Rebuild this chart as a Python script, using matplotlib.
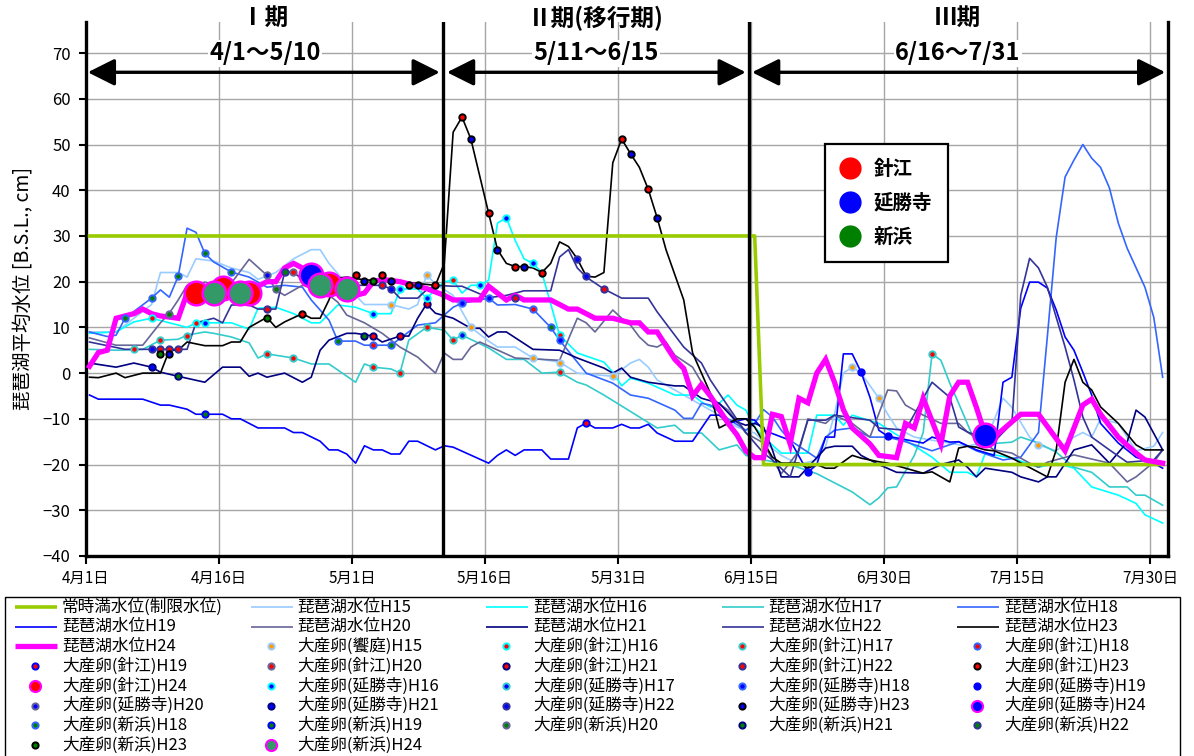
import numpy as np
import matplotlib
matplotlib.use('Agg')
import matplotlib.pyplot as plt
from matplotlib.lines import Line2D
from matplotlib.patches import Rectangle

plt.rcParams['font.family'] = ['Noto Sans CJK JP', 'DejaVu Sans']

# days counted from 4/1 (day 0); daily values are drawn slightly after the tick
X_SHIFT = 0.4

TICK_DAYS = [0, 15, 30, 45, 60, 75, 90, 105, 120]
TICK_LABELS = ['4月1日', '4月16日', '5月1日', '5月16日', '5月31日',
               '6月15日', '6月30日', '7月15日', '7月30日']

LIMIT_DAYS = [0, 75, 76, 121]
LIMIT_LEVEL = [30, 30, -20, -20]

H15_DAYS = [0, 3, 5, 7, 8, 10, 11, 12, 14, 16, 18, 19, 21, 23, 24, 25, 26, 27, 29, 30, 31, 34, 36, 37, 38, 39, 41,
            43, 45, 46, 48, 50, 53, 55, 59, 61, 62, 63, 64, 67, 69, 71, 73, 75, 76, 78, 80, 82, 83, 84, 85, 86, 87,
            89, 90, 91, 93, 96, 99, 101, 103, 104, 106, 107, 109, 111, 112, 113, 114, 116, 118, 120, 121]
H15_LEVEL = [9, 9, 12, 15, 22, 22, 21, 25, 24.5, 23, 22, 20.5, 22, 25, 26, 27, 27, 24, 19.5, 17, 15, 15, 14, 15, 21.5,
             19.5, 17, 10, 7, 5.7, 5.7, 3.3, 2.4, 0, -0.7, 2.2, 3, 1.3, -1.5, -4.8, -7, -9.2, -11.8, -13.1, -15, -18,
             -20, -19, -16, -9, 0, 1.3, 0, -5.5, -9, -12, -14, -15, -16, -15, -5.5, -7.5, -14, -15.7, -17, -14, -13,
             -14, -10, -11, -17, -16, -13]

H16_DAYS = [0, 3, 5, 7, 9, 11, 12, 14, 16, 18, 19, 21, 23, 25, 26, 28, 30, 32, 34, 35, 37, 38, 40, 41, 42, 43, 44,
            45, 46, 47, 48, 49, 50, 51, 53, 55, 58, 59, 60, 61, 63, 66, 68, 69, 70, 71, 72, 73, 74, 75, 76, 78, 81,
            82, 84, 85, 86, 89, 92, 95, 97, 99, 100, 101, 104, 107, 109, 111, 113, 116, 118, 119, 121]
H16_LEVEL = [8.7, 9, 11.2, 12, 11, 10, 11, 11, 11, 9.6, 14.2, 14.4, 13, 11, 11, 14.9, 14.4, 13, 13, 18.4, 18.4, 16.4,
             20, 20.3, 17.5, 19.2, 19.2, 20.3, 32.8, 34, 29, 25, 24, 22, 8.3, 4.4, 2.4, 0.2, -2.8, -1.1, -2.2, -4.8,
             -4.8, -6.3, -7.4, -6.6, -4.8, -7, -8.1, -11.8, -14, -17.5, -17.5, -9.2, -9.2, -11.4, -9.2, -11, -14.7,
             -18.4, -21.7, -21.7, -22.7, -17.5, -18.6, -20.6, -19.7, -20.8, -24.9, -26.7, -28.5, -31, -32.8]

H17_DAYS = [0, 3, 6, 8, 10, 11, 13, 14, 16, 18, 19, 20, 23, 25, 27, 30, 31, 32, 34, 35, 36, 38, 40, 41, 42, 45, 47,
            49, 51, 53, 55, 56, 58, 60, 62, 64, 66, 67, 69, 71, 73, 74, 76, 79, 82, 86, 88, 89, 90, 91, 93, 94, 95,
            96, 97, 98, 100, 104, 105, 107, 109, 111, 113, 115, 117, 118, 119, 121]
H17_LEVEL = [5.2, 5, 5.2, 7.2, 7.4, 8.3, 9, 8.7, 7.9, 6.6, 3.3, 4.2, 3.3, 2, 2, -2, 2, 1.3, 0.9, 0, 7.2, 10, 9.4, 7.2,
             8.3, 5.5, 3, 3, 0, 0.2, -2, -2.6, -4.8, -7.2, -9.6, -12, -11.4, -13.1, -13.1, -16.8, -15.7, -18, -19,
             -20, -22, -26, -28.8, -27.3, -25.1, -24.9, -18, -13, 4.2, 2.8, -2.2, -6.6, -15.7, -15.1, -14, -15.3,
             -17.3, -20.6, -21.7, -24.9, -24.9, -26.7, -26.7, -28.9]

H18_DAYS = [0, 2, 3, 4, 7, 8, 9, 10, 11, 12, 13, 14, 16, 18, 20, 22, 24, 25, 27, 28, 30, 31, 34, 37, 39, 41, 42, 44,
            45, 46, 48, 50, 52, 53, 56, 59, 61, 63, 66, 67, 68, 69, 70, 72, 74, 75, 76, 77, 78, 79, 82, 83, 84, 86,
            88, 90, 92, 95, 98, 100, 103, 105, 107, 108, 109, 110, 111, 112, 113, 114, 115, 116, 117, 119, 120, 121]
H18_LEVEL = [9, 8, 8.3, 12, 16.4, 18.2, 16.6, 21.2, 31.7, 30.8, 26.2, 24.3, 22.1, 21, 18.8, 19.2, 18.8, 16, 11.6, 7, 7,
             6.1, 6.1, 10.5, 11, 14.4, 15.3, 16, 16.4, 14.9, 15, 14, 10, 7.2, 0, -2.2, -4.8, -5.5, -8.1, -9.9, -9.9,
             -6.6, -7, -10, -12.5, -11, -8, -9.6, -12.5, -14.7, -18.6, -14, -12.5, -12, -14, -14, -15, -17, -15, -17,
             -19, -18.4, -13, 8, 29.7, 42.9, 46.6, 50, 47, 45, 40.5, 32.8, 27.3, 18.8, 12.2, -0.9]

H19_DAYS = [0, 1, 6, 8, 9, 11, 12, 15, 16, 17, 19, 22, 23, 24, 26, 27, 28, 29, 30, 31, 32, 33, 34, 35, 36, 37, 39,
            40, 41, 45, 46, 47, 48, 49, 51, 52, 54, 55, 56, 57, 59, 60, 61, 62, 63, 64, 66, 68, 70, 71, 72, 74, 75,
            76, 79, 81, 82, 83, 84, 85, 86, 87, 88, 89, 90, 94, 95, 97, 98, 100, 102, 103, 104, 105, 106, 107, 108,
            109, 110, 111, 112, 113, 114, 116, 118, 120, 121]
H19_LEVEL = [-4.8, -5.7, -5.7, -7, -7, -7.9, -9, -9, -10, -10, -12, -12, -13, -13, -14.9, -16.8, -16.8, -17.7, -19.7,
             -15.9, -16.8, -16.8, -17.7, -17.7, -14.9, -14.9, -16.8, -15.9, -16.2, -19.7, -18, -16.8, -18, -16.8,
             -16.8, -18.8, -18.8, -12, -10.9, -12, -12, -11.2, -12, -12, -11.2, -13.1, -14.9, -14.9, -9.2, -9.2,
             -11, -10, -10.3, -12.5, -14.7, -21.7, -20, -14, -14, 4.2, 4.2, 0.2, -5.3, -12.5, -13.8, -15.3, -14,
             -15.1, -15, -16.8, -18, -2, -0.9, 14.2, 19.9, 19.9, 18.6, 13.8, 7.9, 5, 0.2, -4.8, -11, -15.3, -18.4,
             -19.7, -20.8]

H20_DAYS = [0, 3, 6, 8, 9, 10, 11, 12, 13, 15, 16, 18, 20, 21, 22, 24, 26, 28, 29, 31, 33, 35, 37, 39, 40, 41, 42,
            43, 44, 48, 53, 55, 56, 57, 59, 60, 61, 62, 63, 64, 65, 66, 68, 70, 72, 74, 76, 77, 78, 80, 81, 83, 84,
            86, 88, 90, 91, 92, 94, 96, 98, 99, 102, 104, 106, 107, 108, 111, 115, 117, 118, 120, 121]
H20_LEVEL = [7.7, 6.1, 6.1, 11, 13.1, 16, 19.2, 19.2, 19.9, 19, 19.7, 24.9, 21.4, 18.2, 17, 19.2, 18.6, 15.5, 12.7,
             11, 8.7, 5.7, 3.5, 0, 4.4, 3, 3, 5.7, 6.8, 3.3, 2.8, 12, 11, 9, 13.8, 12, 10.5, 7.9, 6.1, 5.7, 6.8, 3.9,
             1.3, -5.3, -8.1, -13.1, -15.3, -19, -22, -17, -10, -11, -9.2, -11, -14, -3.7, -3.9, -7, -9.2, -11, -11,
             -12.9, -16.8, -17.5, -19.7, -20.6, -19.5, -17.9, -19.7, -23.8, -22.7, -19.5, -16.8]

H21_DAYS = [0, 3, 5, 7, 8, 10, 13, 15, 17, 18, 19, 20, 22, 24, 25, 26, 27, 29, 30, 32, 33, 35, 36, 37, 38, 39, 41,
            42, 43, 44, 45, 46, 47, 50, 53, 55, 58, 59, 60, 61, 63, 66, 67, 69, 71, 73, 74, 75, 76, 77, 78, 80, 83,
            84, 86, 87, 89, 91, 94, 96, 98, 99, 100, 101, 104, 105, 107, 108, 109, 111, 113, 115, 117, 118, 119, 121]
H21_LEVEL = [2.2, 1.3, 2.2, 1.3, 0.2, -0.7, -2, 1.3, 1.3, -0.7, 0, -0.9, 0, -2, -0.9, 5, 7.2, 8.7, 8.7, 8.1, 6.8, 8.1,
             8.1, 12, 15.1, 13.1, 12, 10.9, 9.8, 9.8, 7.9, 9, 9, 5.2, 5, 3.3, 1.1, 0, 1.1, -0.9, -2, -2.8, -2.8,
             -5.5, -6.6, -10.7, -11.4, -11, -11.8, -16.8, -22.7, -22.7, -16.4, -16, -16, -18, -20, -21.7, -21.9, -20,
             -19, -20.6, -22.7, -20.8, -21.7, -22.7, -23.8, -22.7, -22.7, -16.8, -15.7, -19.7, -15.1, -8.1, -9.6,
             -16.8]

H22_DAYS = [0, 2, 4, 7, 11, 12, 14, 15, 16, 18, 19, 21, 22, 23, 25, 26, 28, 29, 33, 34, 35, 37, 38, 39, 41, 42, 45,
            47, 49, 52, 53, 54, 55, 56, 58, 60, 63, 64, 67, 69, 70, 71, 74, 76, 77, 79, 81, 83, 84, 88, 89, 92, 95,
            97, 98, 99, 102, 104, 105, 106, 107, 108, 109, 110, 111, 112, 113, 115, 117, 120, 121]
H22_LEVEL = [6.8, 6, 5.2, 5.2, 5.2, 11, 12, 11, 14.9, 14.9, 14, 14, 22.1, 22.1, 18.8, 16.6, 18, 19.2, 19.2, 18.4, 16.4,
             16.4, 18.2, 19.2, 19, 19, 16.5, 17, 18, 18, 25.4, 27, 23, 21, 18.4, 16.4, 16.4, 13.4, 5.7, 2.2, -1.5,
             -4.4, -13, -17.5, -19, -22.7, -10.3, -10.3, -9.2, -10.3, -12, -12.5, -2, -5.3, -11.8, -12.9, -15, -11,
             17, 25.1, 23, 18.8, 12.2, 5.7, -1.5, -9.6, -14, -16.8, -19.5, -19, -16.8]

H23_DAYS = [0, 1, 3, 4, 6, 8, 9, 10, 11, 13, 15, 16, 17, 18, 20, 21, 22, 24, 25, 26, 27, 28, 29, 31, 35, 39, 40,
            41, 42, 43, 45, 46, 47, 48, 49, 50, 51, 52, 53, 54, 55, 56, 57, 58, 59, 60, 61, 62, 63, 64, 65, 67, 68,
            70, 71, 72, 73, 74, 75, 77, 78, 80, 81, 82, 83, 84, 86, 87, 89, 90, 92, 94, 95, 96, 97, 98, 99, 100,
            101, 102, 104, 108, 109, 110, 111, 112, 113, 114, 116, 118, 119, 121]
H23_LEVEL = [-0.9, -1, 0, -1, 0, 0, 5, 5, 6.8, 6, 6, 6.8, 6.8, 10, 12.2, 10, 11.2, 13, 12, 12, 16, 20.8, 21, 20.4,
             20, 19.2, 24, 52.7, 56, 51.2, 35, 27, 24, 23.3, 23.3, 23, 22, 24, 28.7, 27.7, 25, 21.2, 21, 22, 46,
             51.2, 48, 45, 40.2, 34, 27, 16, 4.4, -4.4, -12, -11, -10, -10, -11.8, -18.4, -19.7, -19.7, -20.8, -20,
             -20.8, -20.8, -18, -18.6, -19.4, -19.7, -20.8, -21.9, -21.6, -22.7, -23.8, -16.4, -16, -16.2, -16.8,
             -17, -18.6, -22.7, -16.8, -2, 3, -2, -3.7, -7.4, -11, -15.7, -16.8, -16.8]

H24_DAYS = [0, 1, 2, 3, 4, 5, 6, 7, 8, 10, 11, 18, 19, 20, 21, 22, 23, 24, 26, 28, 30, 31, 32, 33, 35, 37, 38, 40,
            41, 44, 45, 46, 47, 48, 49, 52, 54, 55, 57, 59, 61, 62, 63, 64, 66, 67, 68, 69, 70, 72, 73, 74, 75, 76,
            77, 78, 79, 80, 81, 82, 83, 84, 85, 86, 88, 89, 91, 92, 93, 94, 96, 97, 98, 99, 100, 101, 102, 105, 107,
            110, 112, 113, 114, 116, 118, 119, 121]
H24_LEVEL = [1.5, 4.5, 5, 12, 12.5, 13, 14, 13, 12.5, 12, 17.5, 17.5, 19, 20, 20, 23, 24, 23, 20, 18, 17, 17.5, 20,
             20.5, 20, 19, 18.5, 17, 16, 16, 19, 17.5, 16, 17, 16, 16, 14, 14, 12, 12, 11, 11, 9, 9, 3, 1, -5, -2.5,
             -5, -11, -13.5, -17, -18.5, -18.5, -9, -9.5, -15.5, -5.5, -6.5, 0, 3, -2, -8, -12, -15.5, -18, -18.5,
             -11, -12, -5.5, -15.5, -5, -2, -2, -7.5, -13.5, -14, -9, -9, -17, -7, -5.7, -9, -14, -17.5, -19, -19.7]

# spawning observations (day, level) per site and year
aiba_h15 = ([34, 38, 43, 50, 53, 59, 86, 89, 107], [15, 21.4, 10, 3.3, 2.2, -0.7, 1.3, -5.5, -15.7])
harie_h16 = ([7, 12, 41, 53], [12, 11, 20.3, 8.3])
harie_h17 = ([5, 8, 11, 20, 23, 32, 35, 38, 41, 53, 95], [5.2, 7.2, 8.1, 4.2, 3.3, 1.3, 0, 10, 7.2, 0.2, 4.2])
harie_h18 = ([32, 50], [6.1, 14])
harie_h19 = ([56], [-10.9])
harie_h20 = ([23], [22.1])
harie_h21 = ([32, 35, 38], [8.1, 8.1, 15.1])
harie_h22 = ([8, 9, 10, 20, 33, 48, 58], [5.2, 5.2, 5.2, 14, 19.2, 16.4, 18.4])
harie_h23 = ([24, 30, 33, 36, 39, 42, 45, 48, 51, 60, 63], [13, 21.4, 21.4, 19.2, 19.2, 56, 35, 23.3, 22, 51.2, 40.2])
harie_h24 = ([12, 15, 18, 27], [17.5, 18.6, 17.5, 19.4])
enshoji_h16 = ([13, 32, 35, 38, 44, 47, 50], [11, 13, 18.4, 16.4, 19.2, 34, 24])
enshoji_h17 = ([42], [8.3])
enshoji_h18 = ([42, 45, 53], [15.3, 16.4, 7.2])
enshoji_h19 = ([81, 87, 90], [-21.7, 0.2, -13.8])
enshoji_h20 = ([20], [21.4])
enshoji_h21 = ([7], [1.3])
enshoji_h22 = ([7, 34, 55, 56], [5.2, 18.4, 25, 21.2])
enshoji_h23 = ([9, 31, 34, 37, 43, 46, 49, 61, 64], [4.2, 20.1, 20.1, 19.2, 51.2, 27, 23.3, 48, 34])
enshoji_h24 = ([25, 101], [21.4, -13.6])
shinhama_h18 = ([4, 7, 10, 13, 16, 28, 34, 52], [12, 16.4, 21.2, 26.2, 22.1, 7, 6.1, 10])
shinhama_h19 = ([13], [-9])
shinhama_h20 = ([9, 12, 21], [13, 19.2, 18.4])
shinhama_h21 = ([10, 31], [-0.7, 8.1])
shinhama_h22 = ([22], [22.1])
shinhama_h23 = ([8, 20, 32], [4.2, 12, 20.1])
shinhama_h24 = ([14, 17, 26, 29], [17.5, 17.5, 19.2, 18.4])

YEAR_COLORS = {'H15': '#99ccff', 'H16': '#00ffff', 'H17': '#33cccc', 'H18': '#3366ff', 'H19': '#0000ff',
               'H20': '#666699', 'H21': '#000080', 'H22': '#333399', 'H23': '#000000', 'H24': '#ff00ff'}
SITE_COLORS = {'饗庭': '#ff9900', '針江': '#ff0000', '延勝寺': '#0000ff', '新浜': '#008000'}
LIMIT_COLOR = '#99cc00'

levels = [('H15', H15_DAYS, H15_LEVEL), ('H16', H16_DAYS, H16_LEVEL), ('H17', H17_DAYS, H17_LEVEL),
          ('H18', H18_DAYS, H18_LEVEL), ('H19', H19_DAYS, H19_LEVEL), ('H20', H20_DAYS, H20_LEVEL),
          ('H21', H21_DAYS, H21_LEVEL), ('H22', H22_DAYS, H22_LEVEL), ('H23', H23_DAYS, H23_LEVEL),
          ('H24', H24_DAYS, H24_LEVEL)]

eggs = [('饗庭', 'H15', aiba_h15),
        ('針江', 'H16', harie_h16), ('針江', 'H17', harie_h17), ('針江', 'H18', harie_h18),
        ('針江', 'H19', harie_h19), ('針江', 'H20', harie_h20), ('針江', 'H21', harie_h21),
        ('針江', 'H22', harie_h22), ('針江', 'H23', harie_h23), ('針江', 'H24', harie_h24),
        ('延勝寺', 'H16', enshoji_h16), ('延勝寺', 'H17', enshoji_h17), ('延勝寺', 'H18', enshoji_h18),
        ('延勝寺', 'H19', enshoji_h19), ('延勝寺', 'H20', enshoji_h20), ('延勝寺', 'H21', enshoji_h21),
        ('延勝寺', 'H22', enshoji_h22), ('延勝寺', 'H23', enshoji_h23), ('延勝寺', 'H24', enshoji_h24),
        ('新浜', 'H18', shinhama_h18), ('新浜', 'H19', shinhama_h19), ('新浜', 'H20', shinhama_h20),
        ('新浜', 'H21', shinhama_h21), ('新浜', 'H22', shinhama_h22), ('新浜', 'H23', shinhama_h23),
        ('新浜', 'H24', shinhama_h24)]


def egg_style(site, year):
    face = SITE_COLORS[site]
    if year == 'H24':
        if site == '新浜':
            face = '#339966'
        return dict(marker='o', ms=17, mfc=face, mec='#ff00ff', mew=1.8)
    return dict(marker='o', ms=4.6, mfc=face, mec=YEAR_COLORS[year], mew=1.4)


fig = plt.figure(figsize=(11.94, 7.56), dpi=100)
ax = fig.add_axes([0.072, 0.2646, 0.9062, 0.7063])

ax.plot(np.array(LIMIT_DAYS) + X_SHIFT, LIMIT_LEVEL, color=LIMIT_COLOR, lw=2.6, zorder=3)
for year, days, lev in levels:
    if year == 'H24':
        ax.plot(np.array(days) + X_SHIFT, lev, color=YEAR_COLORS[year], lw=3.8, zorder=4,
                solid_joinstyle='miter')
    else:
        ax.plot(np.array(days) + X_SHIFT, lev, color=YEAR_COLORS[year], lw=1.2, zorder=2)

for site, year, (days, vals) in eggs:
    ax.plot(np.array(days) + X_SHIFT, vals, ls='none', zorder=6 if year == 'H24' else 5,
            **egg_style(site, year))

# period boundaries and arrows
for xb in [40.3, 74.8]:
    ax.axvline(xb, color='black', lw=2.4, zorder=7)
arrow_kw = dict(arrowstyle='<|-|>,head_length=1.1,head_width=0.55', lw=2.4, color='black',
                mutation_scale=15, shrinkA=0, shrinkB=0)
for x0, x1, xc, title, span in [(0.2, 39.9, 20.2, 'Ⅰ期', '4/1～5/10'),
                                (40.7, 74.4, 57.5, 'Ⅱ期(移行期)', '5/11～6/15'),
                                (75.1, 121.7, 98.3, 'Ⅲ期', '6/16～7/31')]:
    ax.annotate('', xy=(x1, 65.8), xytext=(x0, 65.8), arrowprops=arrow_kw, zorder=8)
    ax.text(xc, 77.6, title, ha='center', va='center', fontsize=17, fontweight='bold', clip_on=False)
    ax.text(xc, 70, span, ha='center', va='center', fontsize=17, fontweight='bold', zorder=8,
            bbox=dict(facecolor='white', edgecolor='none', pad=1))

ax.set_xlim(0, 122)
ax.set_ylim(-40, 76.8)
ax.set_xticks(TICK_DAYS)
ax.set_xticklabels(TICK_LABELS, fontsize=11)
ax.set_yticks(np.arange(-40, 71, 10))
ax.tick_params(axis='y', labelsize=12, direction='out', length=5, width=1.5, pad=6)
ax.tick_params(axis='x', direction='out', length=6, width=1.5, pad=4)
ax.grid(True, color='#a6a6a6', lw=1.0, zorder=0)
ax.set_axisbelow(True)
for side in ['left', 'right', 'bottom']:
    ax.spines[side].set_linewidth(2.4)
ax.spines['top'].set_visible(False)
ax.set_ylabel('琵琶湖平均水位 [B.S.L., cm]', fontsize=14, labelpad=6)

site_handles = [Line2D([], [], ls='none', marker='o', ms=15, mfc=SITE_COLORS[s], mec=SITE_COLORS[s])
                for s in ['針江', '延勝寺', '新浜']]
leg = ax.legend(site_handles, ['針江', '延勝寺', '新浜'], loc='upper left', bbox_to_anchor=(0.674, 0.79),
                frameon=True, fancybox=False, edgecolor='black', framealpha=1, borderpad=0.8,
                handlelength=1.0, handletextpad=0.7, labelspacing=0.75,
                prop={'weight': 'bold', 'size': 14})
leg.get_frame().set_linewidth(1.6)
leg.set_zorder(10)

# series legend below the plot, five columns laid out row by row
lax = fig.add_axes([0, 0, 1, 1], zorder=-1)
lax.set_xlim(0, 1194)
lax.set_ylim(756, 0)
lax.axis('off')
lax.add_patch(Rectangle((5, 597), 1175, 170, fill=False, lw=1.0, edgecolor='black'))

entries = [('line', '常時満水位(制限水位)', dict(color=LIMIT_COLOR, lw=2.6))]
for year, _, _ in levels:
    lw = 3.8 if year == 'H24' else 1.2
    entries.append(('line', '琵琶湖水位' + year, dict(color=YEAR_COLORS[year], lw=lw)))
for site, year, _ in eggs:
    st = egg_style(site, year)
    if year == 'H24':
        st.update(ms=8, mew=1.5)
    else:
        st.update(ms=4.5, mew=1.4)
    entries.append(('egg', '大産卵(' + site + ')' + year, st))

for i, (kind, label, st) in enumerate(entries):
    r, c = divmod(i, 5)
    x0 = 15 + 235.5 * c
    y = 607 + 19.7 * r
    if kind == 'line':
        lax.plot([x0, x0 + 42], [y, y], solid_capstyle='butt', **st)
    else:
        lax.plot([x0 + 20], [y], ls='none', **st)
    lax.text(x0 + 47, y, label, ha='left', va='center', fontsize=12)

fig.savefig('out.png', dpi=100)
